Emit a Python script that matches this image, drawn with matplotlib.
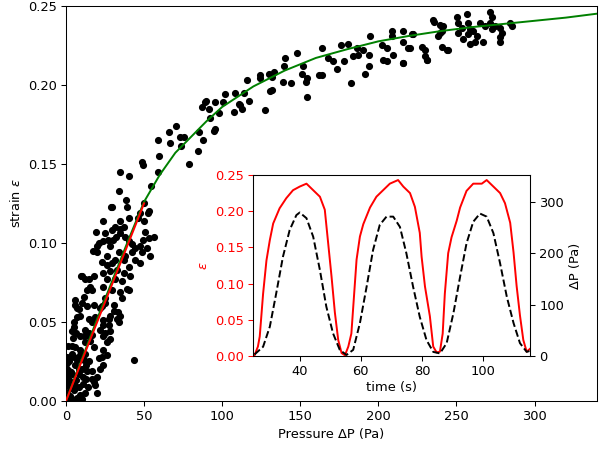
import numpy as np
import matplotlib.pyplot as plt

# scatter data, (pressure Pa, strain)
low_pts = [(6,0.061),(8.1,0.058),(9.2,0.054),(7,0.053),(4.9,0.047),(6.6,0.043),(4.5,0.040),(6,0.034),
           (9.2,0.032),(11.3,0.041),(12.4,0.045),(14.5,0.043),(16.6,0.042),(15.5,0.038),(12.4,0.037),
           (9.2,0.029),(11.3,0.026),(13,0.023),(13.4,0.019),(10.9,0.015),(16.6,0.014),(16.6,0.019),
           (17.7,0.012),(8.1,0.009),(9.2,0.004),(10.2,0.001),(7,0.002),(2.8,0.003),(2.3,0.008),
           (1.7,0.013),(1.7,0.019),(1.7,0.025),(1.7,0.027),(4.9,0.011),(5.3,0.007),(6.6,0.013),
           (8.1,0.020),(6,0.023),(3.8,0.017),(19.8,0.015),(18.8,0.010),(21.9,0.020),(24,0.023),
           (20.9,0.027),(23,0.028),(26.2,0.029),(24,0.032),(26.2,0.037),(28.3,0.039),(28.3,0.044),
           (25.1,0.043),(24,0.048),(27.3,0.048),(28.3,0.054),(30.5,0.057),(32.6,0.052),(27.3,0.052),
           (17.7,0.061),(13.4,0.060),(10.2,0.062),(21.9,0.059),(30.5,0.061),(33,0.056),(25.1,0.062),
           (14.5,0.052),(16.6,0.050),(18.8,0.053),(4.9,0.050),(3.8,0.044),(3.8,0.030),(19.8,0.005),
           (0.6,0.005),(0.6,0.011),(0.6,0.020),(0.6,0.024),(0.6,0.028),(7,0.026),(8.1,0.017),
           (3.8,0.001),(23,0.060),(24,0.051),(34.7,0.054),(33.7,0.050),(22,0.045),(24,0.041),
           (17.7,0.034),(14.5,0.041),(9.2,0.041),(7,0.059),(43.7,0.026),(3,0.018),(5,0.028),
           (12,0.005),(14,0.009),(11,0.011),(2,0.000),(12,0.030),(15,0.025),(4,0.035),(1,0.035),
           (0.5,0.015),(10,0.020),(13,0.014)]

mid_pts = [(28.8,0.123),(23.7,0.114),(34.3,0.114),(19.4,0.107),(25.1,0.106),(29.4,0.108),(31.5,0.110),
           (34.7,0.109),(36.9,0.110),(40.1,0.116),(46.1,0.116),(52.2,0.119),(49.7,0.125),(20.9,0.100),
           (17.3,0.095),(19.8,0.094),(24,0.101),(26.6,0.102),(30.1,0.102),(28.3,0.098),(32.2,0.104),
           (34.7,0.106),(37.9,0.104),(40.1,0.101),(42.2,0.099),(44.3,0.097),(47.1,0.098),(51.8,0.097),
           (53.5,0.092),(48.6,0.094),(42.2,0.094),(37.9,0.092),(33.7,0.094),(26.2,0.092),(23,0.088),
           (26.2,0.086),(29.4,0.087),(31.5,0.089),(36.9,0.089),(40.1,0.085),(44.3,0.089),(47.1,0.087),
           (9.6,0.079),(14.5,0.077),(17.7,0.079),(24,0.081),(28.3,0.082),(32.6,0.083),(36.9,0.081),
           (41.1,0.079),(35.8,0.076),(31.5,0.077),(26.2,0.077),(15.1,0.072),(16.6,0.070),(24,0.072),
           (29.4,0.070),(34.7,0.069),(39,0.071),(25.1,0.065),(35.8,0.065),(40.1,0.070),(39,0.123),
           (50.8,0.107),(52.9,0.103),(49.3,0.102),(52.9,0.120),(56.1,0.104),(49.7,0.114),(47.5,0.119),
           (19.8,0.098),(6,0.064),(11.3,0.066),(13.4,0.070),(12.4,0.077),(10.2,0.079)]

upper_pts = [(29.4,0.123),(34.7,0.145),(40.1,0.142),(33.7,0.133),(38.6,0.127),(48.6,0.151),(49.3,0.149),
             (54.6,0.136),(58.6,0.145),(59.3,0.155),(58.6,0.165),(65.7,0.170),(66.3,0.163),(70.6,0.174),
             (73.1,0.167),(75.7,0.167),(73.6,0.161),(78.5,0.150),(84.2,0.158),(84.9,0.170),(87.7,0.165),
             (94.9,0.171),(89.6,0.190),(87,0.186),(89.1,0.189),(91.3,0.185),(92.3,0.179),(95.5,0.189),
             (95.5,0.172),(97.7,0.182),(100.5,0.189),(101.9,0.194),(107.3,0.183),(108.3,0.195),
             (110.5,0.188),(112.6,0.185),(113.7,0.195),(116.9,0.190),(116.2,0.203),(123.9,0.206),
             (124.3,0.204),(127.5,0.184),(129.7,0.207),(131.8,0.205),(130.7,0.196),(131.8,0.197),
             (133.3,0.208),(138.9,0.202),(140.3,0.217),(139.7,0.212),(144,0.201),(147.8,0.220),
             (151,0.207),(151.7,0.212),(153.8,0.202),(154.6,0.204),(154.2,0.192),(162.3,0.206),
             (111.5,0.187)]

top_pts = [(163.8,0.223),(163.8,0.206),(168,0.217),(171.2,0.215),(173.4,0.210),(176,0.225),(178.1,0.215),
           (180.8,0.226),(182.4,0.201),(184,0.218),(186.2,0.223),(187.2,0.219),(190.4,0.222),(191.5,0.207),
           (194.3,0.219),(194.7,0.231),(194.3,0.212),(202.2,0.225),(203.2,0.216),(205.4,0.223),
           (205.4,0.215),(208.6,0.234),(208.6,0.231),(209.6,0.219),(215.6,0.214),(216,0.234),(216,0.227),
           (219.2,0.223),(221.4,0.232),(227.8,0.224),(230,0.222),(230,0.218),(231.4,0.216),(216,0.214),
           (235.7,0.240),(239.5,0.238),(241.6,0.237),(240.6,0.234),(238.4,0.231),(240.6,0.224),
           (243.8,0.222),(250.2,0.243),(251.2,0.239),(253.4,0.236),(251.2,0.233),(254.4,0.229),
           (256.6,0.245),(257.6,0.239),(258.7,0.235),(260.8,0.234),(257.6,0.232),(258.7,0.226),
           (261.9,0.227),(265.1,0.239),(263,0.231),(267.2,0.227),(268.3,0.237),(271.5,0.246),
           (272.6,0.243),(271.5,0.239),(272.6,0.235),(274.7,0.237),(278,0.236),(279,0.233),(278,0.230),
           (278,0.227),(284.3,0.239),(285.4,0.237),(222,0.232),(231,0.216),(235,0.241),(239.5,0.233),
           (244.8,0.222),(220,0.223)]

# fitted curve (green) and linear fit (red)
fit_p = [0, 10, 20, 30, 40, 50, 60, 70, 80, 90, 100, 120, 140, 160, 180, 200, 220, 240, 260, 280, 300, 320, 340]
fit_s = [0, 0.026, 0.052, 0.077, 0.102, 0.126, 0.143, 0.157, 0.167, 0.177, 0.186, 0.199, 0.209, 0.217,
         0.2225, 0.2275, 0.231, 0.234, 0.2365, 0.2385, 0.2405, 0.2425, 0.245]
lin_p = [0, 50]
lin_s = [0, 0.125]

# inset time series
t_strain = [25.2, 26.3, 26.9, 28.0, 29.1, 30.2, 31.3, 33.4, 35.6, 37.8, 40.0, 42.2, 44.4, 46.6, 48.2, 49.3,
            50.4, 51.5, 52.6, 53.7, 54.8, 55.9, 56.9, 58.6, 59.7, 60.8, 63.0, 65.1, 67.3, 69.5, 72.2, 73.9,
            76.1, 77.7, 79.3, 79.9, 81.0, 82.6, 83.7, 84.8, 85.9, 86.8, 87.5, 88.6, 89.7, 91.4, 92.5, 94.6,
            96.8, 99.6, 101.2, 103.4, 105.6, 107.2, 108.9, 110.0, 111.0, 112.1, 113.2, 114.3, 115.4]
strain = [0.001, 0.013, 0.027, 0.086, 0.132, 0.160, 0.183, 0.204, 0.218, 0.229, 0.234, 0.238, 0.229, 0.220,
          0.202, 0.156, 0.110, 0.060, 0.022, 0.004, 0.001, 0.013, 0.031, 0.133, 0.165, 0.182, 0.205, 0.220,
          0.229, 0.238, 0.243, 0.234, 0.225, 0.206, 0.170, 0.137, 0.096, 0.055, 0.013, 0.005, 0.006, 0.031,
          0.086, 0.142, 0.164, 0.187, 0.205, 0.228, 0.238, 0.238, 0.243, 0.234, 0.225, 0.211, 0.184, 0.143,
          0.097, 0.056, 0.022, 0.006, 0.010]
t_press = [25.2, 28.0, 30.2, 32.3, 34.5, 36.7, 38.9, 40.0, 42.2, 44.4, 46.6, 48.7, 50.9, 53.1, 55.3, 57.5,
           59.7, 61.9, 64.0, 66.2, 68.4, 70.6, 72.8, 74.9, 77.1, 79.3, 81.5, 83.7, 85.9, 88.1, 90.3, 92.5,
           94.6, 96.8, 99.0, 101.2, 103.4, 105.6, 107.8, 110.0, 112.1, 114.3, 115.4]
press = [3, 18, 57, 122, 193, 245, 274, 279, 268, 232, 167, 96, 44, 12, 2, 12, 64, 135, 206, 255, 271, 271,
         251, 200, 135, 76, 31, 8, 5, 25, 83, 154, 219, 261, 277, 271, 239, 180, 115, 64, 25, 8, 10]

pts = np.array(low_pts + mid_pts + upper_pts + top_pts)

fig = plt.figure(figsize=(6.4, 4.79), dpi=93.75)
ax = fig.add_axes([0.110, 0.107, 0.885, 0.880])
ax.scatter(pts[:, 0], pts[:, 1], s=20, color='black', zorder=2)
ax.plot(fit_p, fit_s, color='green', lw=1.5, zorder=3)
ax.plot(lin_p, lin_s, color='red', lw=1.5, zorder=3)
ax.set_xlim(0, 340)
ax.set_ylim(0, 0.25)
ax.set_xlabel('Pressure ΔP (Pa)')
ax.set_ylabel(r'strain $\epsilon$')

ins = fig.add_axes([0.4217, 0.2071, 0.4617, 0.4031])
ins.plot(t_strain, strain, color='red', lw=1.5)
ins.set_xlim(24.7, 115.4)
ins.set_ylim(0, 0.25)
ins.set_xticks([40, 60, 80, 100])
ins.set_ylabel(r'$\epsilon$', color='red')
ins.tick_params(axis='y', colors='red')
ins.set_xlabel('time (s)', labelpad=2)

ins2 = ins.twinx()
ins2.plot(t_press, press, color='black', ls='--', lw=1.5)
ins2.set_ylim(0, 352)
ins2.set_ylabel('ΔP (Pa)')

fig.savefig('out.png')
